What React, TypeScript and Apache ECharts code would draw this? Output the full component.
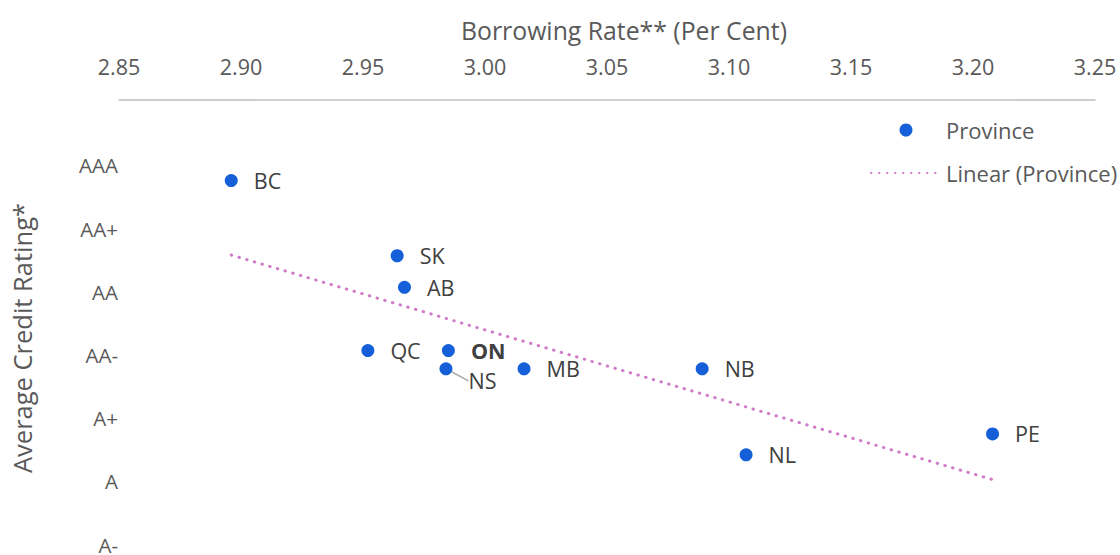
import React, { useEffect, useRef } from "react";
import * as echarts from "echarts";

const provinces = ["BC", "SK", "AB", "QC", "ON", "NS", "MB", "NB", "NL", "PE"];
const borrowingRate = [2.896, 2.964, 2.967, 2.952, 2.985, 2.984, 3.016, 3.089, 3.107, 3.208];
const ratingScore = [5.76, 4.57, 4.07, 3.07, 3.07, 2.78, 2.78, 2.78, 1.42, 1.75];
const ratingLabels = ["A-", "A", "A+", "AA-", "AA", "AA+", "AAA"];
const xMin = 2.85;
const xMax = 3.25;
const xStep = 0.05;

const FONT = "'Open Sans', 'Noto Sans', sans-serif";

function linearFit(xs: number[], ys: number[]) {
  const n = xs.length;
  const mx = xs.reduce((a, b) => a + b, 0) / n;
  const my = ys.reduce((a, b) => a + b, 0) / n;
  let sxy = 0;
  let sxx = 0;
  for (let i = 0; i < n; i++) {
    sxy += (xs[i] - mx) * (ys[i] - my);
    sxx += (xs[i] - mx) * (xs[i] - mx);
  }
  const slope = sxy / sxx;
  const icpt = my - slope * mx;
  const x0 = Math.min(...xs);
  const x1 = Math.max(...xs);
  return [
    [x0, icpt + slope * x0],
    [x1, icpt + slope * x1],
  ];
}

export default function App() {
  const ref = useRef<HTMLDivElement>(null);
  useEffect(() => {
    if (!ref.current) return;
    const chart = echarts.init(ref.current, undefined, { renderer: "svg" });
    const points = provinces.map((p, i) => {
      const item: any = { name: p, value: [borrowingRate[i], ratingScore[i]] };
      if (p === "ON") item.label = { fontWeight: "bold" };
      if (p === "NS") item.labelLine = { show: true, lineStyle: { color: "#A6A6A6", width: 1.5 } };
      return item;
    });
    const trend = linearFit(borrowingRate, ratingScore);
    chart.setOption({
      animation: false,
      textStyle: { fontFamily: FONT },
      grid: { left: 119, right: 25, top: 100, bottom: 8.5 },
      graphic: [
        {
          type: "text",
          x: 624,
          y: 30,
          style: {
            text: "Borrowing Rate** (Per Cent)",
            font: `24.8px ${FONT}`,
            fill: "#595959",
            align: "center",
            verticalAlign: "middle",
          },
        },
        {
          type: "text",
          x: 22,
          y: 338,
          rotation: Math.PI / 2,
          style: {
            text: "Average Credit Rating*",
            font: `25.5px ${FONT}`,
            fill: "#595959",
            align: "center",
            verticalAlign: "middle",
          },
        },
      ],
      legend: {
        orient: "vertical",
        left: 870,
        top: 117,
        padding: 0,
        itemWidth: 70,
        itemHeight: 13,
        itemGap: 17,
        textStyle: { fontSize: 22, color: "#595959", lineHeight: 26, fontFamily: FONT },
        data: [
          { name: "Province", icon: "circle" },
          {
            name: "Linear (Province)",
            itemStyle: { color: "rgba(0,0,0,0)", borderColor: "rgba(0,0,0,0)", borderWidth: 0, opacity: 0 },
          },
        ],
      },
      xAxis: {
        type: "value",
        position: "top",
        min: xMin,
        max: xMax,
        interval: xStep,
        axisLine: { show: true, onZero: false, lineStyle: { color: "#BFBFBF", width: 1.5 } },
        axisTick: { show: false },
        splitLine: { show: false },
        axisLabel: {
          margin: 23,
          fontSize: 21.5,
          color: "#595959",
          formatter: (v: number) => v.toFixed(2),
        },
      },
      yAxis: {
        type: "value",
        min: 0,
        max: 7.035,
        interval: 1,
        axisLine: { show: false },
        axisTick: { show: false },
        splitLine: { show: false },
        axisLabel: {
          margin: 1,
          fontSize: 20.5,
          lineHeight: 15,
          color: "#595959",
          showMaxLabel: false,
          formatter: (v: number) => {
            const k = Math.round(v);
            return Math.abs(v - k) < 1e-6 && ratingLabels[k] ? ratingLabels[k] : "";
          },
        },
      },
      series: [
        {
          name: "Linear (Province)",
          type: "line",
          data: trend,
          symbol: "none",
          silent: true,
          lineStyle: { color: "#D07CC8", width: 3, type: [0.5, 7.5], cap: "round" },
          itemStyle: { color: "#D07CC8" },
          z: 1,
        },
        {
          name: "Province",
          type: "scatter",
          data: points,
          symbolSize: 13,
          itemStyle: { color: "#1560D8", opacity: 1 },
          z: 3,
          label: {
            show: true,
            position: "right",
            distance: 16,
            formatter: "{b}",
            fontSize: 21.5,
            color: "#404040",
            fontFamily: FONT,
          },
          labelLayout: (p: any) => (p.dataIndex === 5 ? { dy: 12 } : {}),
        },
      ],
    });
    return () => chart.dispose();
  }, []);
  return (
    <div
      ref={ref}
      style={{ position: "fixed", left: 0, top: 0, width: 1120, height: 555, background: "#fff" }}
    />
  );
}
